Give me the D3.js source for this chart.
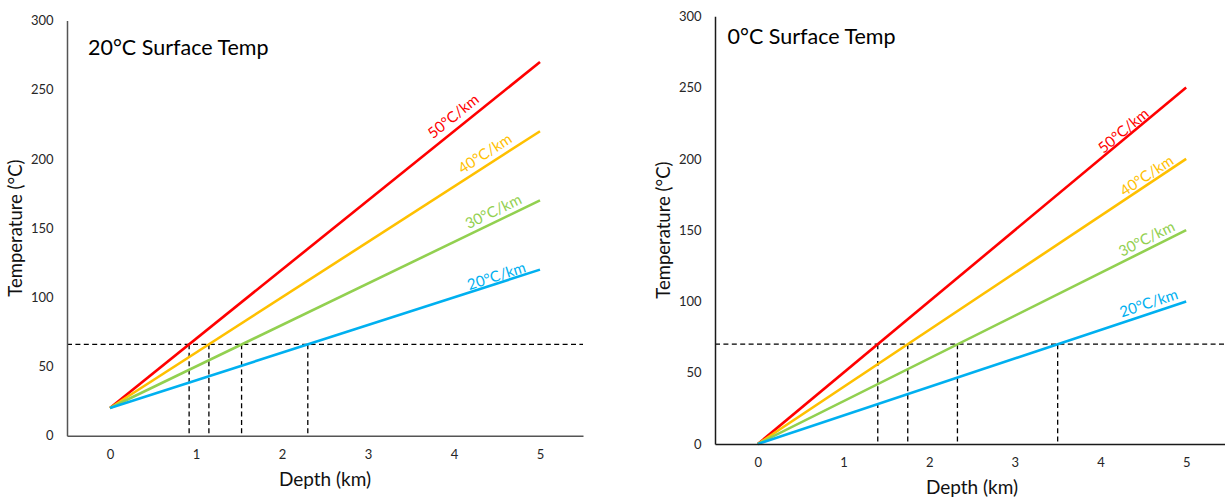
<!DOCTYPE html>
<html>
<head>
<meta charset="utf-8">
<script src="https://cdn.jsdelivr.net/npm/d3@7"></script>
<style>
  html, body { margin: 0; padding: 0; background: #fff; }
  svg { display: block; font-family: Lato, "Open Sans", sans-serif; }
</style>
</head>
<body>
<svg id="chart" width="1225" height="499"></svg>
<script>
// Geotherms: temperature (°C) at the top and bottom of the 0–5 km depth range
const depthKm = [0, 5];
const depthTicks = [0, 1, 2, 3, 4, 5];
const tempTicks = [0, 50, 100, 150, 200, 250, 300];
const gradientLabels = ["50°C/km", "40°C/km", "30°C/km", "20°C/km"];
const panelTitles = ["20°C Surface Temp", "0°C Surface Temp"];
const warmSurfaceTemps = [[20, 270], [20, 220], [20, 170], [20, 120]];
const coldSurfaceTemps = [[0, 250], [0, 200], [0, 150], [0, 100]];
// Reference temperature and the depth at which each geotherm reaches it
const referenceTemps = [66, 70];
const warmCrossDepths = [0.92, 1.15, 1.53, 2.3];
const coldCrossDepths = [1.4, 1.75, 2.33, 3.5];

const lineColors = ["#FF0000", "#FFC000", "#92D050", "#00B0F0"];

const panels = [
  {
    title: panelTitles[0], series: warmSurfaceTemps, refT: referenceTemps[0], cross: warmCrossDepths,
    xRange: [67, 583], yRange: [435.7, 20.5], axisColor: "#555555",
    titlePos: [88, 55], yTitleX: 22, xTitleY: 486, xPad: 14,
    labelDepth: [4.08, 4.43, 4.51, 4.52], labelGap: [12.2, 11.1, 10.4, 7.3]
  },
  {
    title: panelTitles[1], series: coldSurfaceTemps, refT: referenceTemps[1], cross: coldCrossDepths,
    xRange: [715, 1229], yRange: [444, 16.3], axisColor: "#1a1a1a",
    titlePos: [727.5, 44.3], yTitleX: 670, xTitleY: 494, xPad: 13.5,
    labelDepth: [4.32, 4.59, 4.59, 4.6], labelGap: [7.1, 8.0, 10.0, 10.3]
  }
];

const svg = d3.select("#chart");

panels.forEach(p => {
  const x = d3.scaleLinear().domain([-0.5, 5.5]).range(p.xRange);
  const y = d3.scaleLinear().domain([0, 300]).range(p.yRange);
  const g = svg.append("g");

  // Reference temperature: horizontal guide and drops to the depth axis
  const dash = "5,3.4";
  g.append("line")
    .attr("x1", x(-0.5)).attr("x2", x(5.5))
    .attr("y1", y(p.refT)).attr("y2", y(p.refT))
    .attr("stroke", "#000").attr("stroke-width", 1.3).attr("stroke-dasharray", dash);
  g.selectAll("line.drop").data(p.cross).join("line")
    .attr("class", "drop")
    .attr("x1", d => x(d)).attr("x2", d => x(d))
    .attr("y1", y(p.refT)).attr("y2", y(0))
    .attr("stroke", "#000").attr("stroke-width", 1.3).attr("stroke-dasharray", dash);

  // Geotherm lines
  const line = d3.line().x((v, i) => x(depthKm[i])).y(v => y(v));
  g.selectAll("path.geotherm").data(p.series).join("path")
    .attr("class", "geotherm")
    .attr("d", line)
    .attr("fill", "none")
    .attr("stroke", (d, i) => lineColors[i])
    .attr("stroke-width", 2.6);

  // Gradient labels laid along each line
  p.series.forEach((s, i) => {
    const tAt = d3.scaleLinear().domain(depthKm).range(s);
    const d = p.labelDepth[i];
    const px = x(d), py = y(tAt(d));
    const ang = Math.atan2(y(s[1]) - y(s[0]), x(depthKm[1]) - x(depthKm[0])) * 180 / Math.PI;
    g.append("text")
      .attr("transform", `translate(${px},${py}) rotate(${ang})`)
      .attr("y", -p.labelGap[i])
      .attr("dy", "0.35em")
      .attr("text-anchor", "middle")
      .attr("font-size", 15)
      .attr("fill", lineColors[i])
      .text(gradientLabels[i]);
  });

  // Axes
  const yAxis = g.append("g")
    .attr("transform", `translate(${x(-0.5)},0)`)
    .call(d3.axisLeft(y).tickValues(tempTicks).tickFormat(d3.format("d"))
      .tickSize(0).tickSizeOuter(0).tickPadding(13.5));
  const xAxis = g.append("g")
    .attr("transform", `translate(0,${y(0)})`)
    .call(d3.axisBottom(x).tickValues(depthTicks).tickFormat(d3.format("d"))
      .tickSize(0).tickSizeOuter(0).tickPadding(p.xPad));
  [yAxis, xAxis].forEach(a => {
    a.attr("font-family", null).attr("font-size", null);
    a.select(".domain").attr("stroke", p.axisColor).attr("stroke-width", 1.5);
    a.selectAll("text").attr("fill", "#262626").attr("font-size", 13);
  });

  // Titles
  g.append("text")
    .attr("x", p.titlePos[0]).attr("y", p.titlePos[1])
    .attr("font-size", 21.5).attr("fill", "#000")
    .text(p.title);
  g.append("text")
    .attr("x", (p.xRange[0] + p.xRange[1]) / 2).attr("y", p.xTitleY)
    .attr("text-anchor", "middle").attr("font-size", 19).attr("fill", "#111")
    .text("Depth (km)");
  g.append("text")
    .attr("transform", `translate(${p.yTitleX},${(p.yRange[0] + p.yRange[1]) / 2}) rotate(-90)`)
    .attr("text-anchor", "middle").attr("font-size", 18.5).attr("fill", "#111")
    .text("Temperature (°C)");
});
</script>
</body>
</html>
